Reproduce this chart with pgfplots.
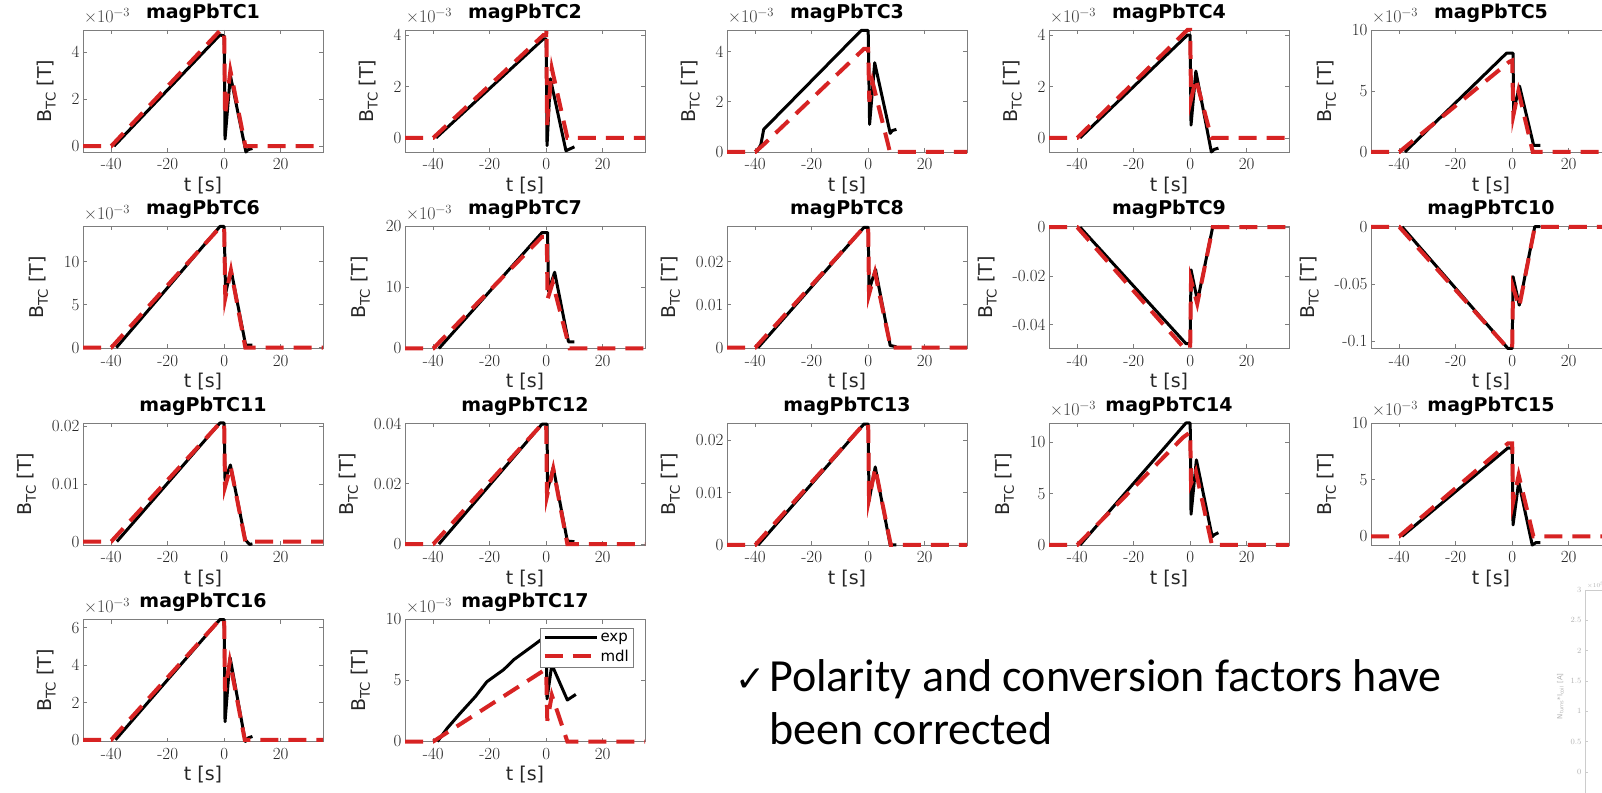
\documentclass[border=0pt]{standalone}
\usepackage{fontspec}
\usepackage{pgfplots}
\pgfplotsset{compat=1.18}
\newfontfamily\dejavu{DejaVu Sans}
\newfontfamily\carlito{Carlito}
\definecolor{mred}{RGB}{215,35,35}
\definecolor{boxc}{RGB}{125,125,125}

\pgfplotsset{
  mat/.style={
    anchor=south west, width=240pt, height=122pt, scale only axis,
    xmin=-50, xmax=35, xtick={-40,-20,0,20}, xticklabels={-40,-20,0,20},
    scaled ticks=false,
    axis line style={boxc, line width=0.7pt},
    every tick/.style={boxc, line width=0.7pt},
    major tick length=4pt,
    tick label style={font=\fontsize{17}{17}\selectfont, text=black!85},
    xticklabel style={yshift=-3pt},
    xlabel={t [s]}, ylabel={B\textsubscript{TC} [T]},
    label style={font=\dejavu\fontsize{19}{19}\selectfont, text=black!85},
    ylabel shift=9pt,
    title style={font=\dejavu\bfseries\fontsize{19}{19}\selectfont, inner sep=0pt, yshift=1.5pt},
    clip=false,
  },
  expl/.style={black, line width=3pt, line join=round},
  mdl/.style={mred, line width=4pt, dash pattern=on 18pt off 10pt},
}
\tikzset{mult/.style={anchor=base west, inner sep=0pt, xshift=1pt, yshift=7pt,
  font=\fontsize{18}{18}\selectfont, text=black!75}}

\begin{document}
\begin{tikzpicture}[x=1pt,y=1pt]
\useasboundingbox (0,0) rectangle (1602,792);
\clip (0,0) rectangle (1602,792);

% ---------- row 1
\begin{axis}[mat, name=a1, at={(83pt,640pt)}, title={magPbTC1},
  ymin=-0.25, ymax=4.93, ytick={0,2,4}, yticklabels={0,2,4}]
\addplot[expl] coordinates {(-39,0)(-1.5,4.72)(0,4.68)(0.3,0.3)(2.2,3.0)(7.7,-0.25)(8.5,-0.15)(10,-0.1)};
\addplot[mdl] coordinates {(-50,0)(-40,0)(-1.5,4.9)(0,4.9)(0.3,1.3)(2.2,3.2)(7.5,0)(35,0)};
\end{axis}
\node[mult] at (a1.north west) {×10\textsuperscript{−3}};

\begin{axis}[mat, name=a2, at={(405pt,640pt)}, title={magPbTC2},
  ymin=-0.55, ymax=4.2, ytick={0,2,4}, yticklabels={0,2,4}]
\addplot[expl] coordinates {(-39,0)(-1,3.85)(0,3.85)(0.3,-0.3)(1.5,2.3)(7,-0.5)(8,-0.45)(10,-0.35)};
\addplot[mdl] coordinates {(-50,0)(-40,0)(-1,4.0)(0,4.0)(0.1,4.2)(0.3,0.5)(2,2.7)(7.5,0)(35,0)};
\end{axis}
\node[mult] at (a2.north west) {×10\textsuperscript{−3}};

\begin{axis}[mat, name=a3, at={(727pt,640pt)}, title={magPbTC3},
  ymin=0, ymax=4.85, ytick={0,2,4}, yticklabels={0,2,4}]
\addplot[expl] coordinates {(-39.5,0)(-38,0.3)(-37,0.9)(-2.5,4.83)(0,4.83)(0.5,1.1)(2.3,3.55)(7.8,0.74)(8.5,0.85)(10,0.9)};
\addplot[mdl] coordinates {(-50,0)(-40,0)(-37,0.3)(-1.5,4.1)(0,4.1)(0.4,2.0)(1.5,2.8)(7.7,0)(35,0)};
\end{axis}
\node[mult] at (a3.north west) {×10\textsuperscript{−3}};

\begin{axis}[mat, name=a4, at={(1049pt,640pt)}, title={magPbTC4},
  ymin=-0.55, ymax=4.2, ytick={0,2,4}, yticklabels={0,2,4}]
\addplot[expl] coordinates {(-39,0)(-1,4.0)(0,4.0)(0.3,0.5)(2,2.6)(7.5,-0.55)(8.5,-0.45)(10,-0.4)};
\addplot[mdl] coordinates {(-50,0)(-40,0)(-1,4.2)(0,4.2)(0.3,1.5)(2,2.3)(7.5,0)(35,0)};
\end{axis}
\node[mult] at (a4.north west) {×10\textsuperscript{−3}};

\begin{axis}[mat, name=a5, at={(1371pt,640pt)}, title={magPbTC5},
  ymin=0, ymax=10, ytick={0,5,10}, yticklabels={0,5,10}]
\addplot[expl] coordinates {(-38,0)(-2,8.1)(0.3,8.1)(0.5,3.4)(2.6,5.4)(7.6,0.54)(10,0.54)};
\addplot[mdl] coordinates {(-50,0)(-40,0)(-1,7.4)(0,7.5)(0.4,3.0)(2.2,5.0)(7.3,0)(35,0)};
\end{axis}
\node[mult] at (a5.north west) {×10\textsuperscript{−3}};

% ---------- row 2
\begin{axis}[mat, name=a6, at={(83pt,443.5pt)}, title={magPbTC6},
  ymin=-0.1, ymax=14.1, ytick={0,5,10}, yticklabels={0,5,10}]
\addplot[expl] coordinates {(-38.2,0)(-1.5,14.1)(0,14.1)(0.5,6.3)(2.4,9.1)(7.6,0.3)(10,0.3)};
\addplot[mdl] coordinates {(-50,0)(-40,0)(-1.5,14)(0,14)(0.4,5.8)(2.4,9)(7.5,0)(35,0)};
\end{axis}
\node[mult] at (a6.north west) {×10\textsuperscript{−3}};

\begin{axis}[mat, name=a7, at={(405pt,443.5pt)}, title={magPbTC7},
  ymin=0, ymax=20, ytick={0,10,20}, yticklabels={0,10,20}]
\addplot[expl] coordinates {(-38,0)(-1.5,19)(0.5,19)(0.8,9.4)(3,12.5)(7.9,1.1)(10,1.1)};
\addplot[mdl] coordinates {(-50,0)(-40,0)(-1.5,18.3)(0.2,18.3)(0.5,8.1)(2.3,10.8)(8.3,0)(35,0)};
\end{axis}
\node[mult] at (a7.north west) {×10\textsuperscript{−3}};

\begin{axis}[mat, name=a8, at={(727pt,443.5pt)}, title={magPbTC8},
  ymin=-0.0002, ymax=0.0282, ytick={0,0.01,0.02}, yticklabels={0,0.01,0.02}]
\addplot[expl] coordinates {(-39,0)(-1.5,0.028)(0,0.028)(0.3,0.0134)(2.6,0.0182)(7.8,0.0005)(10,0.0002)};
\addplot[mdl] coordinates {(-50,0)(-40,0)(-1.5,0.028)(0,0.028)(0.3,0.0124)(2.4,0.0175)(8,0)(35,0)};
\end{axis}

\begin{axis}[mat, name=a9, at={(1049pt,443.5pt)}, title={magPbTC9},
  ymin=-0.0498, ymax=0.0003, ytick={-0.04,-0.02,0}, yticklabels={-0.04,-0.02,0}]
\addplot[expl] coordinates {(-39,0)(-1.5,-0.0478)(0,-0.0478)(0.3,-0.0175)(2.6,-0.0303)(8,0.0002)(10,0.0003)};
\addplot[mdl] coordinates {(-50,0)(-40,0)(-2,-0.0498)(0,-0.0495)(0.3,-0.0218)(2.5,-0.0314)(8,0)(35,0)};
\end{axis}

\begin{axis}[mat, name=a10, at={(1371pt,443.5pt)}, title={magPbTC10},
  ymin=-0.1066, ymax=0.0003, ytick={-0.1,-0.05,0}, yticklabels={-0.1,-0.05,0}]
\addplot[expl] coordinates {(-39,0)(-1.5,-0.1066)(0,-0.1066)(0.3,-0.0437)(2.5,-0.0686)(8,0.0002)(10,0.0003)};
\addplot[mdl] coordinates {(-50,0)(-40,0)(-1.5,-0.1066)(0,-0.106)(0.3,-0.053)(2.5,-0.07)(8,0)(35,0)};
\end{axis}

% ---------- row 3
\begin{axis}[mat, name=a11, at={(83pt,247pt)}, title={magPbTC11},
  ymin=-0.0006, ymax=0.0206, ytick={0,0.01,0.02}, yticklabels={0,0.01,0.02}]
\addplot[expl] coordinates {(-38,0)(-1.5,0.0206)(0,0.0206)(0.3,0.0107)(2.2,0.0133)(7.5,0.0003)(9,-0.0005)(10,-0.0004)};
\addplot[mdl] coordinates {(-50,0)(-40,0)(-1.5,0.0206)(0,0.0206)(0.3,0.0095)(2.3,0.013)(7.5,0)(35,0)};
\end{axis}

\begin{axis}[mat, name=a12, at={(405pt,247pt)}, title={magPbTC12},
  ymin=-0.0003, ymax=0.0402, ytick={0,0.02,0.04}, yticklabels={0,0.02,0.04}]
\addplot[expl] coordinates {(-38,0)(-1.5,0.0398)(0.3,0.0398)(0.5,0.018)(2.5,0.0255)(7.5,0.001)(10,0.0008)};
\addplot[mdl] coordinates {(-50,0)(-40,0)(-1.5,0.0398)(0,0.0398)(0.3,0.016)(2.5,0.025)(7.5,0)(35,0)};
\end{axis}

\begin{axis}[mat, name=a13, at={(727pt,247pt)}, title={magPbTC13},
  ymin=0, ymax=0.0233, ytick={0,0.01,0.02}, yticklabels={0,0.01,0.02}]
\addplot[expl] coordinates {(-39,0)(-1.5,0.0231)(0,0.0231)(0.3,0.0084)(2.5,0.0149)(7.8,0)(10,0)};
\addplot[mdl] coordinates {(-50,0)(-40,0)(-1.5,0.0231)(0,0.0231)(0.3,0.0088)(2.5,0.0147)(8,0)(35,0)};
\end{axis}

\begin{axis}[mat, name=a14, at={(1049pt,247pt)}, title={magPbTC14},
  ymin=0, ymax=11.9, ytick={0,5,10}, yticklabels={0,5,10}]
\addplot[expl] coordinates {(-39,0)(-1.5,11.9)(0,11.9)(0.3,3.0)(2.2,8.3)(7.8,0.8)(8.5,1.0)(10,1.2)};
\addplot[mdl] coordinates {(-50,0)(-40,0)(-2.5,10.5)(0,11.0)(0.3,6.0)(2,7.2)(7.7,0)(35,0)};
\end{axis}
\node[mult] at (a14.north west) {×10\textsuperscript{−3}};

\begin{axis}[mat, name=a15, at={(1371pt,247pt)}, title={magPbTC15},
  ymin=-0.77, ymax=10, ytick={0,5,10}, yticklabels={0,5,10}]
\addplot[expl] coordinates {(-39,0)(-1.5,7.8)(0,7.75)(0.3,1.0)(2.3,4.8)(7.1,-0.77)(8.5,-0.55)(10,-0.55)};
\addplot[mdl] coordinates {(-50,0)(-40,0)(-1.5,8.2)(0,8.2)(0.3,3.0)(2.3,5.4)(7.5,0)(35,0)};
\end{axis}
\node[mult] at (a15.north west) {×10\textsuperscript{−3}};

% ---------- row 4
\begin{axis}[mat, name=a16, at={(83pt,50.5pt)}, title={magPbTC16},
  ymin=-0.09, ymax=6.44, ytick={0,2,4,6}, yticklabels={0,2,4,6}]
\addplot[expl] coordinates {(-38.5,0)(-1.5,6.44)(0,6.44)(0.3,0.97)(2.1,4.4)(7.5,-0.09)(8.5,0.1)(10,0.18)};
\addplot[mdl] coordinates {(-50,0)(-40,0)(-1.5,6.44)(0,6.44)(0.3,2.6)(2,4.2)(7.3,0)(35,0)};
\end{axis}
\node[mult] at (a16.north west) {×10\textsuperscript{−3}};

\begin{axis}[mat, name=a17, at={(405pt,50.5pt)}, title={magPbTC17},
  ymin=0, ymax=10, ytick={0,5,10}, yticklabels={0,5,10},
  legend style={at={(0.95,0.934)}, anchor=north east, draw=boxc, fill=white,
    font=\dejavu\fontsize{15}{15}\selectfont, inner xsep=2pt, inner ysep=3pt,
    row sep=3pt, cells={anchor=west}},
  legend image code/.code={\draw[#1] (0pt,0pt) -- (52pt,0pt);}]
\addplot[expl] coordinates {(-38.5,0)(-35,1.1)(-30.5,2.3)(-25,3.7)(-21,4.9)(-15,5.9)(-11.5,6.7)(-4.4,7.9)(-1.5,8.4)(0,8.4)(0.3,3.5)(2,6.3)(7.5,3.4)(10.5,3.86)};
\addplot[mdl] coordinates {(-50,0)(-40,0)(-1,5.8)(0,5.8)(0.4,1.7)(2,3.8)(7.5,0)(35,0)};
\legend{exp, mdl}
\end{axis}
\node[mult] at (a17.north west) {×10\textsuperscript{−3}};

% ---------- partly visible figure at the right edge
\begin{axis}[at={(1585pt,-10.3pt)}, anchor=south west, width=200pt, height=212.3pt,
  scale only axis, xmin=0, xmax=1, ymin=-0.5, ymax=3, xtick=\empty,
  ytick={0,0.5,1,1.5,2,2.5,3}, yticklabels={0,0.5,1,1.5,2,2.5,3},
  axis line style={gray!40}, every tick/.style={gray!40}, major tick length=3pt,
  tick label style={font=\fontsize{8}{8}\selectfont, text=gray!60},
  ylabel={N\textsubscript{turns}*I\textsubscript{coil} [A]},
  ylabel style={font=\dejavu\fontsize{7}{7}\selectfont, text=gray!60}]
\end{axis}
\node[anchor=base west, inner sep=0pt, font=\fontsize{6}{6}\selectfont, text=gray!60]
  at (1587,204) {×10\textsuperscript{5}};

% ---------- note
\node[anchor=base west, inner sep=0pt, font=\dejavu\fontsize{36}{36}\selectfont]
  at (735,100) {✓};
\node[anchor=base west, inner sep=0pt, font=\carlito\fontsize{46}{46}\selectfont]
  at (769,100) {Polarity and conversion factors have};
\node[anchor=base west, inner sep=0pt, font=\carlito\fontsize{46}{46}\selectfont]
  at (769,48) {been corrected};
\end{tikzpicture}
\end{document}
